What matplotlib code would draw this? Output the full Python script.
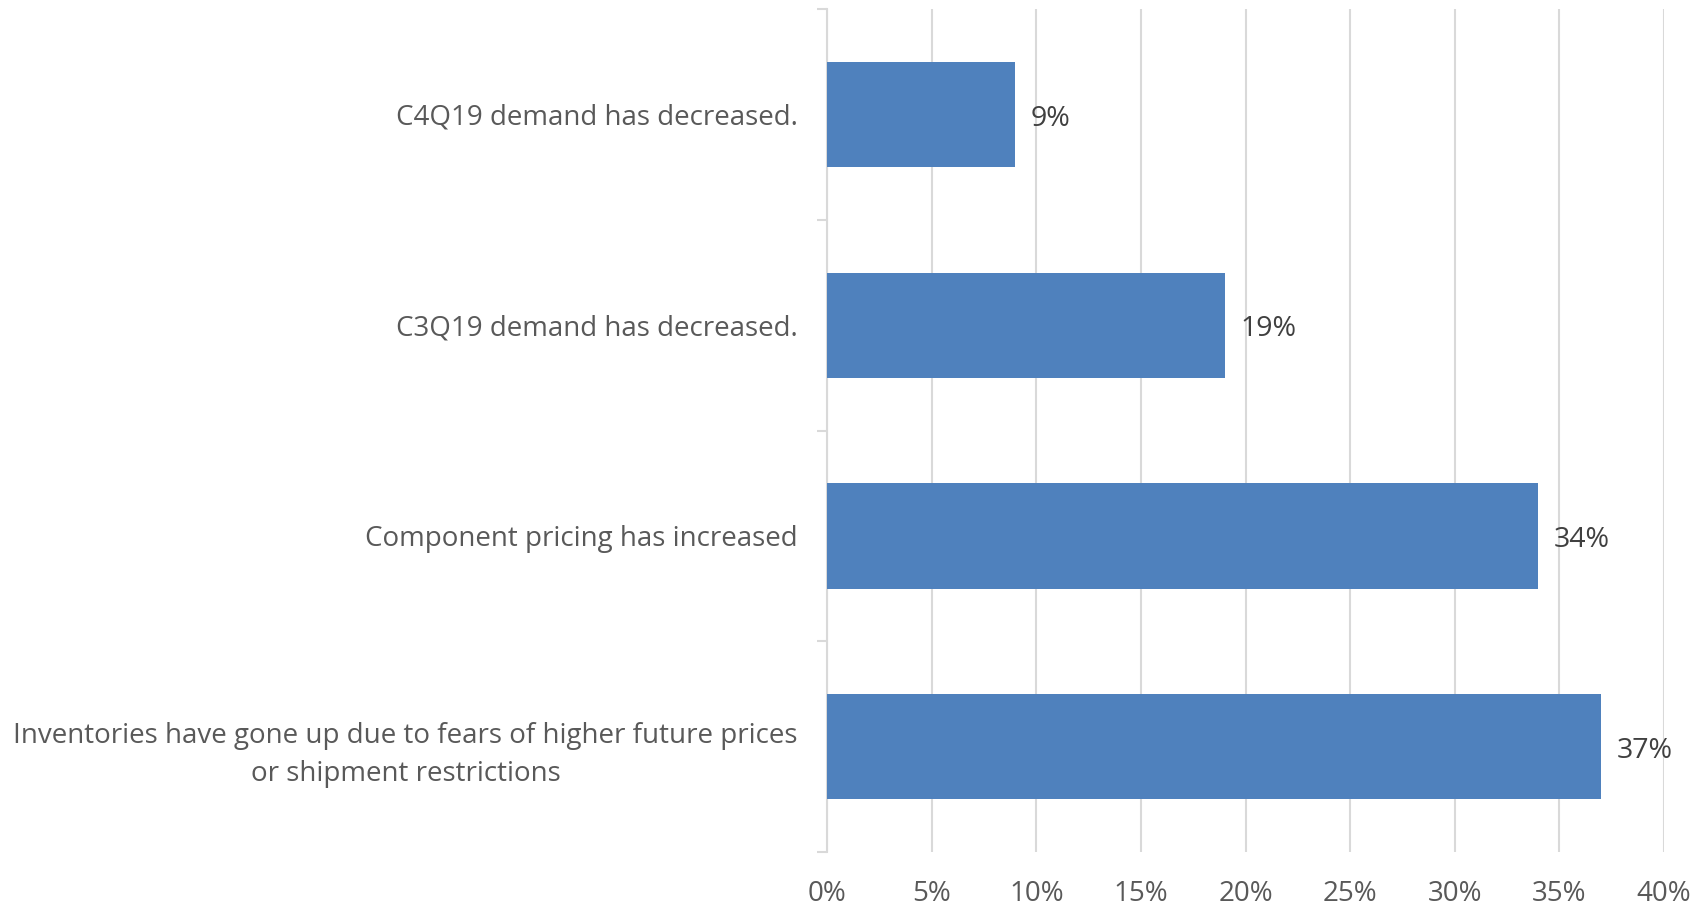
import numpy as np
import matplotlib.pyplot as plt
from matplotlib.ticker import FixedLocator, PercentFormatter

# Data (top to bottom as in the chart)
categories = ["C4Q19 demand has decreased.",
              "C3Q19 demand has decreased.",
              "Component pricing has increased",
              "Inventories have gone up due to fears of higher future prices\nor shipment restrictions"]
values = [9, 19, 34, 37]
xticks = [0, 5, 10, 15, 20, 25, 30, 35, 40]

plt.rcParams['font.family'] = ['Open Sans', 'DejaVu Sans']

fig = plt.figure(figsize=(17.07, 9.10), dpi=100)
ax = fig.add_axes([0.4845, 0.0637, 0.4903, 0.9263])

pos = np.arange(len(categories))
ax.barh(pos, values, height=0.5, color='#4f81bd', zorder=3)

for p, v in zip(pos, values):
    ax.text(v + 0.75, p + 0.02, f"{v}%", va='center', ha='left',
            fontsize=20.5, color='#404040')

ax.set_xlim(0, 40)
ax.set_ylim(len(categories) - 0.5, -0.5)
ax.set_xticks(xticks)
ax.xaxis.set_major_formatter(PercentFormatter(100, decimals=0))
ax.set_yticks(pos)
ax.set_yticklabels(categories, multialignment='center', linespacing=1.45)
ax.yaxis.set_minor_locator(FixedLocator(np.arange(-0.5, len(categories), 1)))

ax.grid(axis='x', color='#d9d9d9', linewidth=1.5, zorder=0)
ax.tick_params(axis='x', length=0, pad=20, labelsize=20, labelcolor='#595959')
ax.tick_params(axis='y', which='major', length=0, pad=21, labelsize=20,
               labelcolor='#595959')
ax.tick_params(axis='y', which='minor', length=7, width=1.5, color='#d9d9d9')

for s in ['top', 'right', 'bottom']:
    ax.spines[s].set_visible(False)
ax.spines['left'].set_color('#d9d9d9')
ax.spines['left'].set_linewidth(1.5)

plt.savefig('out.png', dpi=100)
plt.close()
